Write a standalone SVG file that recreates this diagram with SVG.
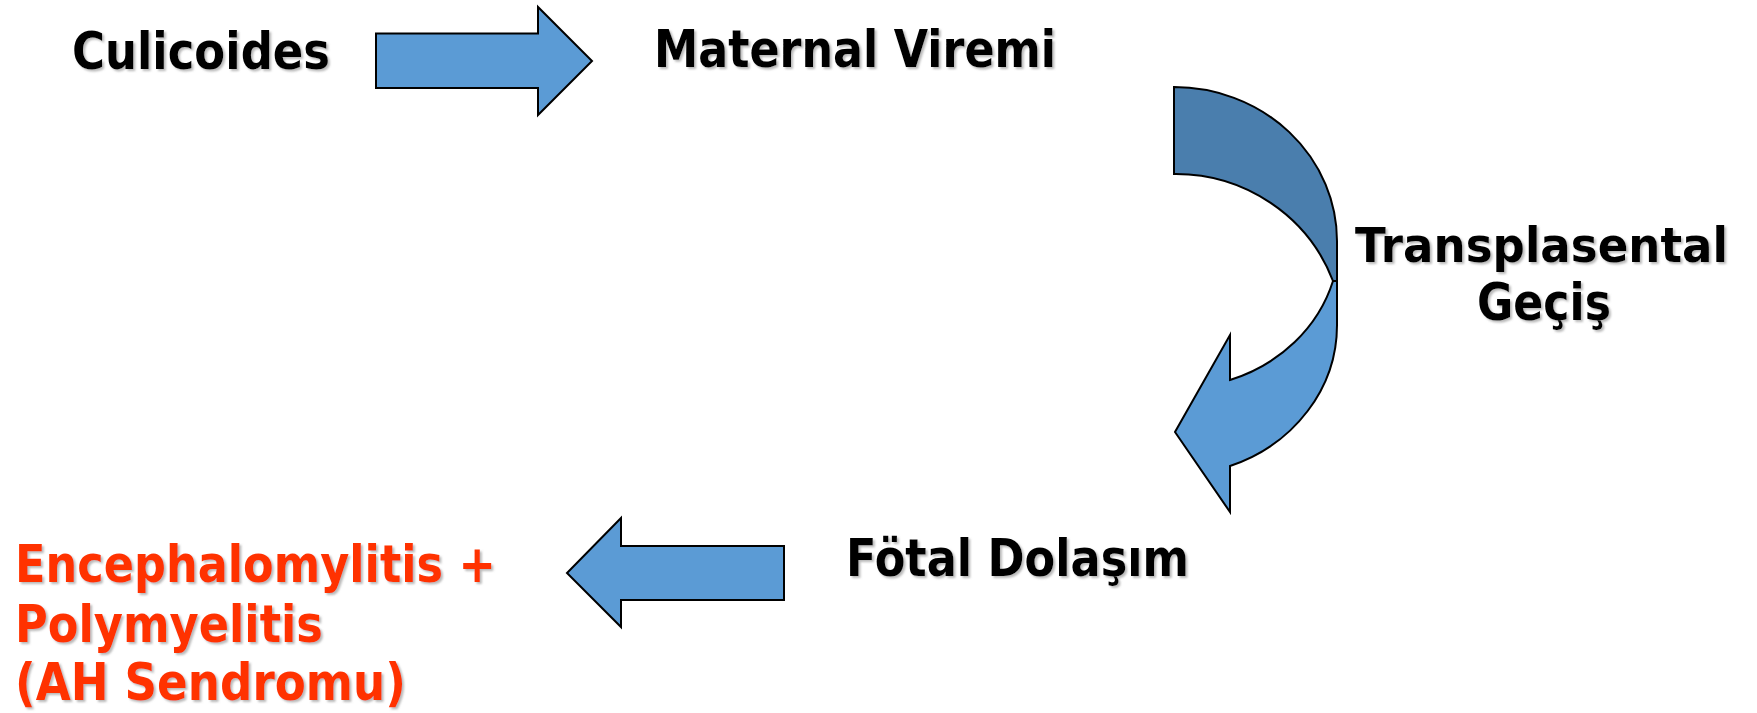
<svg xmlns="http://www.w3.org/2000/svg" width="1757" height="713" viewBox="0 0 1757 713">
  <defs>
    <filter id="shadow" x="-5%" y="-20%" width="110%" height="140%">
      <feDropShadow dx="2" dy="2" stdDeviation="0.8" flood-color="#808080" flood-opacity="0.55"/>
    </filter>
  </defs>
  <style>
    .lbl { font-family: "DejaVu Sans", Verdana, sans-serif; font-weight: bold; font-size: 51px; fill: #000000; filter: url(#shadow); }
    .red { fill: #FF3300; }
    .arrow { fill: #5B9BD5; stroke: #000000; stroke-width: 2; stroke-linejoin: miter; }
    .arrow-dark { fill: #4A7EAD; stroke: #000000; stroke-width: 2; }
  </style>
  <rect width="1757" height="713" fill="#FFFFFF"/>

  <g id="connectors">
    <polygon id="arrow-right" class="arrow" points="376,33.5 538,33.5 538,7 592,61 538,115 538,88 376,88"/>
    <g id="arrow-curved">
      <path class="arrow-dark" d="M1174,87 A163,154 0 0 1 1337,241 L1337,281 L1333,281 A168,165 0 0 0 1174,174 Z"/>
      <path class="arrow" d="M1333,281 L1337,281 L1337,325 A163,150 0 0 1 1230,466 L1230,512 L1175,432 L1230,335 L1230,380 A162,148 0 0 0 1333,281 Z"/>
    </g>
    <polygon id="arrow-left" class="arrow" points="784,546 621,546 621,518 567,573 621,627 621,600 784,600"/>
  </g>

  <g id="node-culicoides">
    <text class="lbl" x="72" y="69" textLength="258" lengthAdjust="spacingAndGlyphs">Culicoides</text>
  </g>
  <g id="node-maternal-viremi">
    <text class="lbl" x="654" y="67" textLength="402" lengthAdjust="spacingAndGlyphs">Maternal Viremi</text>
  </g>
  <g id="node-transplasental">
    <text class="lbl" x="1355" y="262" font-size="47.5" style="font-size:47.5px" textLength="373" lengthAdjust="spacingAndGlyphs">Transplasental</text>
    <text class="lbl" x="1477" y="320" textLength="134" lengthAdjust="spacingAndGlyphs">Geçiş</text>
  </g>
  <g id="node-fotal-dolasim">
    <text class="lbl" x="846" y="576" textLength="343" lengthAdjust="spacingAndGlyphs">Fötal Dolaşım</text>
  </g>
  <g id="node-ah-sendromu">
    <text class="lbl red" x="15" y="582" textLength="481" lengthAdjust="spacingAndGlyphs">Encephalomylitis +</text>
    <text class="lbl red" x="15" y="642" textLength="308" lengthAdjust="spacingAndGlyphs">Polymyelitis</text>
    <text class="lbl red" x="15" y="700" textLength="391" lengthAdjust="spacingAndGlyphs">(AH Sendromu)</text>
  </g>
</svg>
